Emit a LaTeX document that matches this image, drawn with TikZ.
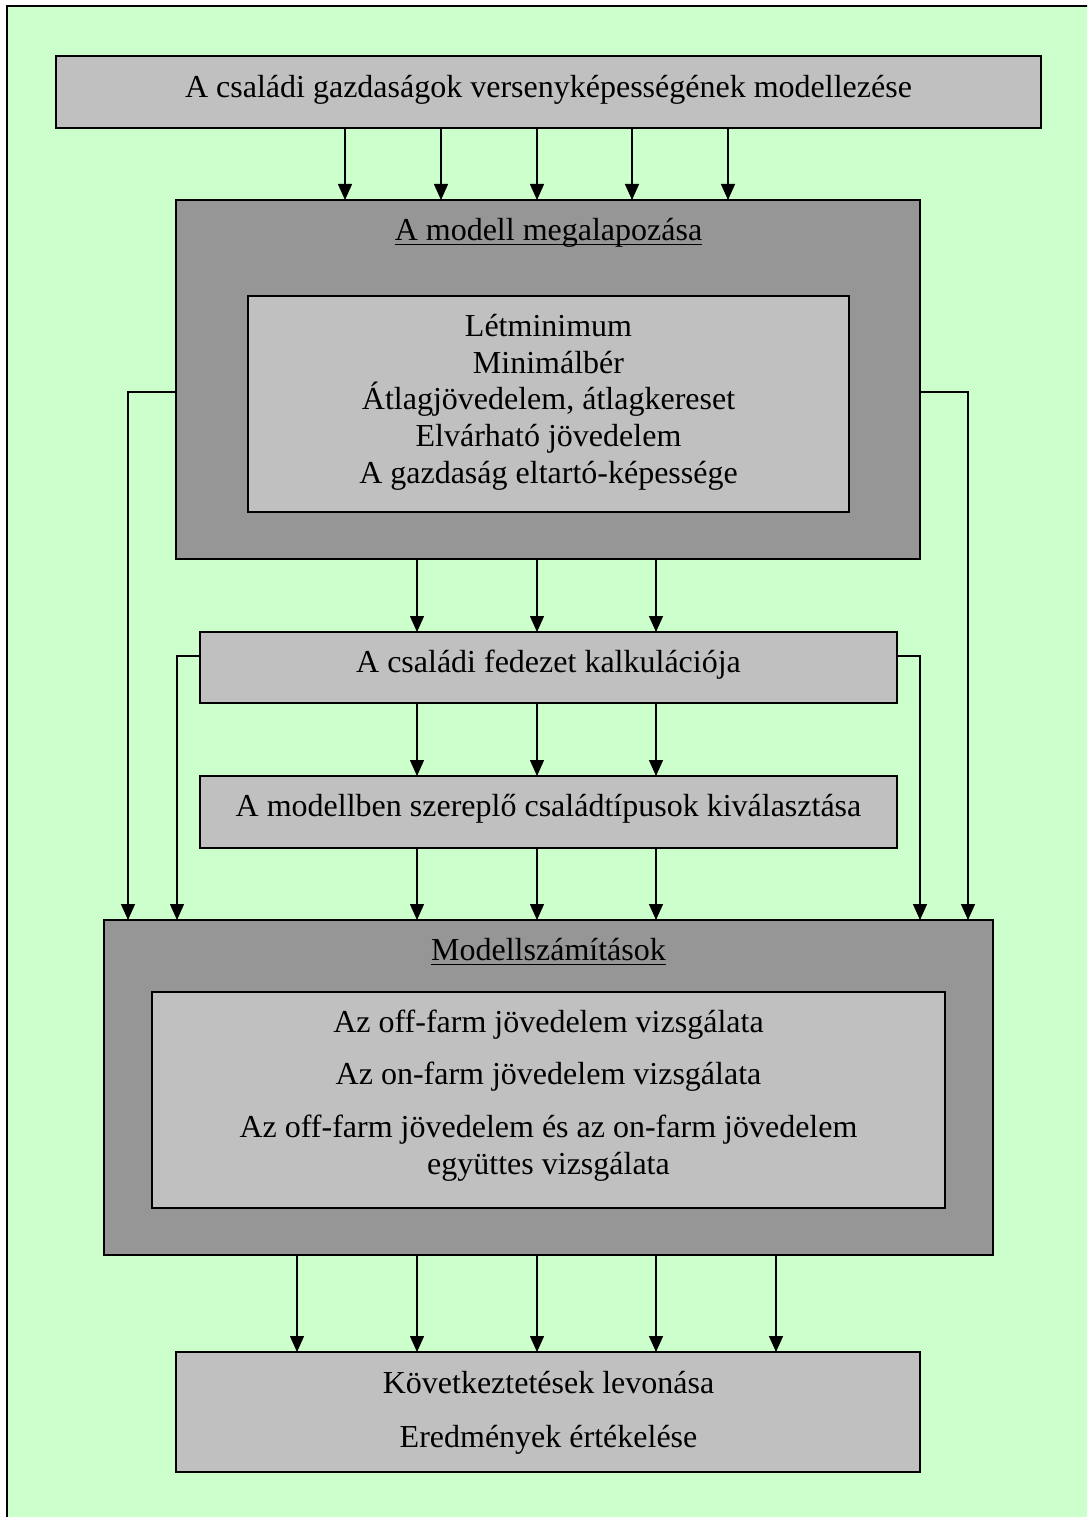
\documentclass[tikz,border=0pt]{standalone}
\usepackage{fontspec}
\setmainfont{Liberation Serif}
\usetikzlibrary{arrows.meta}
\definecolor{bggreen}{HTML}{CCFFCC}
\definecolor{lightbox}{HTML}{C0C0C0}
\definecolor{darkbox}{HTML}{969696}
\begin{document}
\begin{tikzpicture}[x=1pt,y=-1pt,
  box/.style={draw=black, line width=2pt, fill=lightbox, inner sep=0pt, outer sep=0pt},
  darkframe/.style={draw=black, line width=2pt, fill=darkbox, inner sep=0pt, outer sep=0pt},
  txt/.style={inner sep=0pt, outer sep=0pt, anchor=base, font=\fontsize{32}{36.8}\selectfont},
  arr/.style={line width=1.4pt, -{Triangle[width=14pt,length=16pt]}},
  uline/.style={line width=1.5pt}
]
\path[use as bounding box, clip] (0,0) rectangle (1087,1517);
\fill[white] (0,0) rectangle (1087,1517);
\draw[line width=2pt, fill=bggreen] (6.5,6) rectangle (1100,1530);

% boxes
\node[box, minimum width=985pt, minimum height=72pt] (top) at (548.5,92) {};
\node[darkframe, minimum width=744pt, minimum height=359pt] (dark1) at (548,379.5) {};
\node[box, minimum width=601pt, minimum height=216pt] (inner1) at (548.5,404) {};
\node[box, minimum width=697pt, minimum height=71pt] (box2) at (548.5,667.5) {};
\node[box, minimum width=697pt, minimum height=72pt] (box3) at (548.5,812) {};
\node[darkframe, minimum width=889pt, minimum height=335pt] (dark2) at (548.5,1087.5) {};
\node[box, minimum width=793pt, minimum height=216pt] (inner2) at (548.5,1100) {};
\node[box, minimum width=744pt, minimum height=120pt] (bottom) at (548,1412) {};

% texts
\node[txt] (ttop) at (548.5,97.5) {A családi gazdaságok versenyképességének modellezése};
\node[txt] (tdark1) at (548.5,240.5) {A modell megalapozása};
\draw[uline] ([yshift=-4pt]tdark1.base west) -- ([yshift=-4pt]tdark1.base east);
\node[txt] (ta) at (548.5,336) {Létminimum};
\node[txt] (tb) at (548.5,373) {Minimálbér};
\node[txt] (tc) at (548.5,409.5) {Átlagjövedelem, átlagkereset};
\node[txt] (td) at (548.5,446.5) {Elvárható jövedelem};
\node[txt] (te) at (548.5,483.5) {A gazdaság eltartó-képessége};
\node[txt] (tbox2) at (548.5,672) {A családi fedezet kalkulációja};
\node[txt] (tbox3) at (548.5,816.5) {A modellben szereplő családtípusok kiválasztása};
\node[txt] (tdark2) at (548.5,960.5) {Modellszámítások};
\draw[uline] ([yshift=-4pt]tdark2.base west) -- ([yshift=-4pt]tdark2.base east);
\node[txt] (tf) at (548.5,1032) {Az off-farm jövedelem vizsgálata};
\node[txt] (tg) at (548.5,1084.5) {Az on-farm jövedelem vizsgálata};
\node[txt] (th) at (548.5,1137.5) {Az off-farm jövedelem és az on-farm jövedelem};
\node[txt] (ti) at (548.5,1174) {együttes vizsgálata};
\node[txt] (tj) at (548.5,1393) {Következtetések levonása};
\node[txt] (tk) at (548.5,1447) {Eredmények értékelése};

% arrows
\foreach \x in {345,441,537,632,728}
  \draw[arr] (top.south -| \x,0) -- (dark1.north -| \x,0);
\foreach \x in {417,537,656} {
  \draw[arr] (dark1.south -| \x,0) -- (box2.north -| \x,0);
  \draw[arr] (box2.south -| \x,0) -- (box3.north -| \x,0);
  \draw[arr] (box3.south -| \x,0) -- (dark2.north -| \x,0);
}
\foreach \x in {297,417,537,656,776}
  \draw[arr] (dark2.south -| \x,0) -- (bottom.north -| \x,0);

% side connectors
\draw[arr] (dark1.west |- 0,392) -| (dark2.north -| 128,0);
\draw[arr] (dark1.east |- 0,392) -| (dark2.north -| 968,0);
\draw[arr] (box2.west |- 0,656) -| (dark2.north -| 177,0);
\draw[arr] (box2.east |- 0,656) -| (dark2.north -| 920,0);
\end{tikzpicture}
\end{document}
